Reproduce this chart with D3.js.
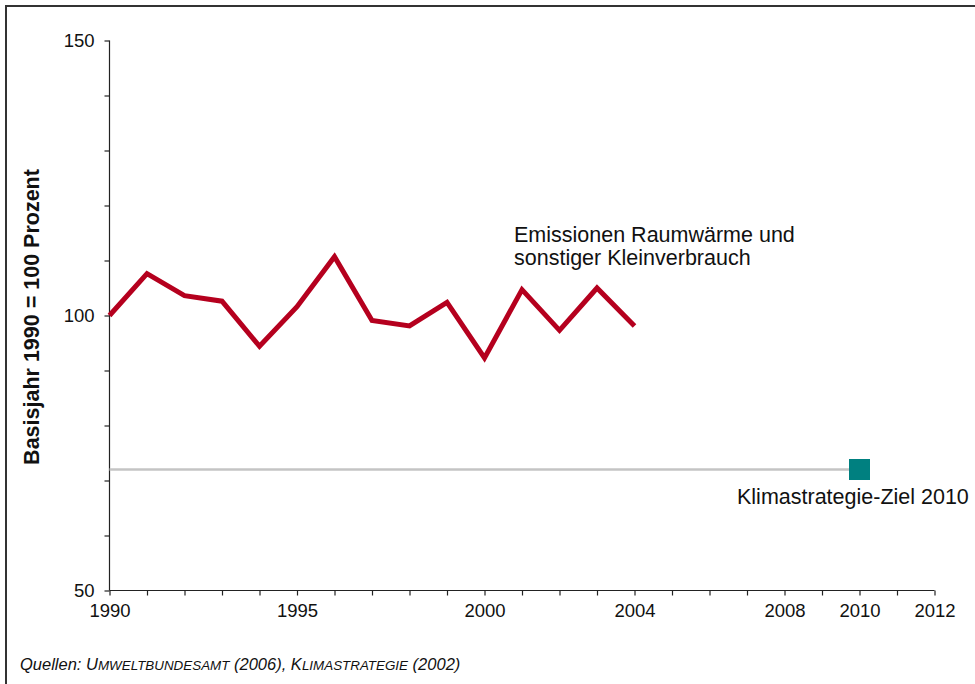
<!DOCTYPE html>
<html>
<head>
<meta charset="utf-8">
<script src="https://cdn.jsdelivr.net/npm/d3@7"></script>
<style>
  html, body { margin: 0; padding: 0; background: #fff; }
  svg { display: block; font-family: "Liberation Sans", Arial, sans-serif; }
</style>
</head>
<body>
<script>
// ---- data ----
const years = [1990, 1991, 1992, 1993, 1994, 1995, 1996, 1997, 1998, 1999, 2000, 2001, 2002, 2003, 2004];
const emissions = [100, 107.6, 103.6, 102.6, 94.4, 101.6, 110.7, 99.1, 98.1, 102.4, 92.3, 104.7, 97.3, 105.0, 98.1];
const targetYear = 2010;
const targetValue = 72;
const xTickLabels = [1990, 1995, 2000, 2004, 2008, 2010, 2012];
const yTickLabels = [50, 100, 150];
const seriesLabel = ["Emissionen Raumwärme und", "sonstiger Kleinverbrauch"];
const targetLabel = "Klimastrategie-Ziel 2010";
const yTitle = "Basisjahr 1990 = 100 Prozent";

const W = 975, H = 684;
const svg = d3.select("body").append("svg").attr("width", W).attr("height", H);

// frame
svg.append("path").attr("d", `M6,${H}V6H${W}`).attr("fill", "none").attr("stroke", "#333").attr("stroke-width", 2);

const x = d3.scaleLinear().domain([1990, 2012]).range([109.5, 934.5]);
const y = d3.scaleLinear().domain([50, 150]).range([590.5, 40.5]);

// y axis
const yAxis = d3.axisLeft(y).tickValues(d3.range(50, 151, 10)).tickSize(5).tickPadding(10)
  .tickFormat(d => yTickLabels.includes(d) ? d : "");
const gy = svg.append("g").attr("transform", `translate(${x(1990)},0)`).call(yAxis);
gy.select(".domain").attr("d", `M-0,${y(150)}V${y(50)}`);

// x axis
const xAxis = d3.axisBottom(x).tickValues(d3.range(1990, 2013, 1)).tickSize(5).tickPadding(8)
  .tickFormat(d => xTickLabels.includes(d) ? d : "");
const gx = svg.append("g").attr("transform", `translate(0,${y(50)})`).call(xAxis);
gx.select(".domain").attr("d", `M${x(1990)},0H${x(2012)}`);

[gx, gy].forEach(g => {
  g.selectAll(".domain").attr("stroke", "#222").attr("stroke-width", 1.2);
  g.selectAll(".tick line").attr("stroke", "#222").attr("stroke-width", 1.2);
  g.selectAll(".tick text").attr("fill", "#111").style("font-size", "18.5px").style("font-family", "Liberation Sans, Arial, sans-serif");
});

// y title
svg.append("text")
  .attr("transform", `translate(39,317) rotate(-90)`)
  .attr("text-anchor", "middle")
  .style("font-size", "21.5px").style("font-weight", "bold").attr("fill", "#111")
  .text(yTitle);

// target line
svg.append("line")
  .attr("x1", x(1990)).attr("x2", x(targetYear))
  .attr("y1", y(targetValue)).attr("y2", y(targetValue))
  .attr("stroke", "#c4c4c4").attr("stroke-width", 2.5);
svg.append("rect")
  .attr("x", x(targetYear) - 10.5).attr("y", y(targetValue) - 10.5)
  .attr("width", 21).attr("height", 21)
  .attr("fill", "#008080");

// emissions line
const line = d3.line().x((d, i) => x(years[i])).y(d => y(d));
svg.append("path").datum(emissions)
  .attr("d", line).attr("fill", "none")
  .attr("stroke", "#b5001e").attr("stroke-width", 5).attr("stroke-linejoin", "miter");

// labels
const lab = svg.append("text").attr("x", 514).attr("y", 242)
  .style("font-size", "21.5px").attr("fill", "#111");
seriesLabel.forEach((t, i) => lab.append("tspan").attr("x", 514).attr("dy", i ? 23 : 0).text(t));

svg.append("text").attr("x", 737).attr("y", 504)
  .style("font-size", "21.5px").attr("fill", "#111").text(targetLabel);

// source
const src = svg.append("text").attr("x", 20).attr("y", 670)
  .style("font-size", "16.5px").style("font-style", "italic").attr("fill", "#111");
const parts = [
  ["Quellen: ", 16.5], ["U", 16.5], ["MWELTBUNDESAMT", 13.4], [" (2006), ", 16.5],
  ["K", 16.5], ["LIMASTRATEGIE", 13.4], [" (2002)", 16.5]
];
parts.forEach(([t, s]) => src.append("tspan").style("font-size", s + "px").text(t));
</script>
</body>
</html>
